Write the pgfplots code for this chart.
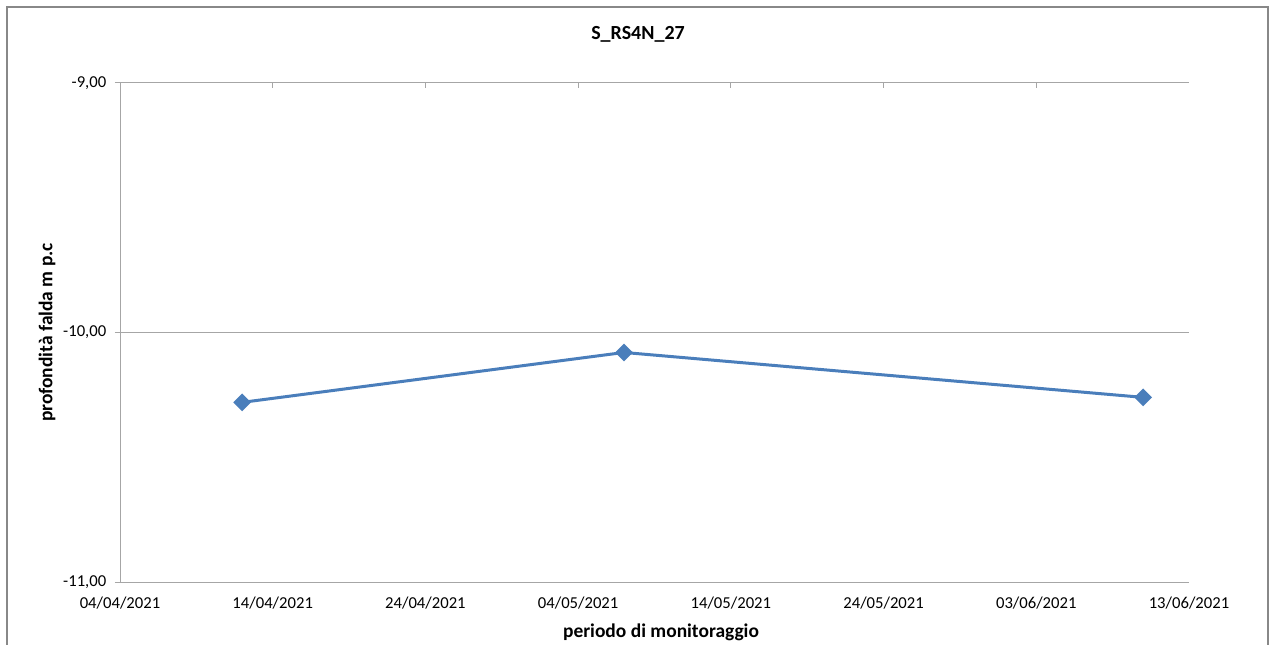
\documentclass[border=0pt]{standalone}
\usepackage{pgfplots}
\pgfplotsset{compat=1.18}
\usepackage{fontspec}
\setmainfont{Carlito}
\definecolor{serie}{HTML}{4A7EBB}
\definecolor{asse}{HTML}{888888}
\definecolor{griglia}{HTML}{A6A6A6}
\begin{document}
\begin{tikzpicture}[x=0.75pt,y=0.75pt]
\useasboundingbox (0,0) rectangle (1271,644);
\fill[white] (0,0) rectangle (1271,644);
\draw[asse,line width=1.5pt] (7,-5) -- (7,637) -- (1268,637) -- (1268,-5);
\begin{axis}[
  at={(90pt,46.5pt)}, anchor=south west,
  scale only axis, width=801.75pt, height=374.25pt,
  xmin=0, xmax=70, ymin=-11, ymax=-9,
  axis x line=bottom, axis y line=left,
  axis line style={draw=griglia, line width=0.75pt, -},
  xtick={0,10,...,70},
  xticklabels={04/04/2021,14/04/2021,24/04/2021,04/05/2021,14/05/2021,24/05/2021,03/06/2021,13/06/2021},
  x tick style={draw=none},
  ytick={-11,-10,-9},
  y tick style={draw=griglia, line width=0.75pt},
  tick align=outside, major tick length=3.75pt,
  ymajorgrids, major grid style={draw=griglia, line width=0.75pt},
  /pgf/number format/assume math mode=true,
  y tick label style={/pgf/number format/fixed, /pgf/number format/fixed zerofill, /pgf/number format/precision=2, /pgf/number format/use comma},
  tick label style={font=\fontsize{12.5}{14}\selectfont, text=black},
  xticklabel style={yshift=-4pt},
  yticklabel style={xshift=-3pt},
  clip=false,
]
\pgfplotsinvokeforeach{10,20,...,60}{\draw[griglia, line width=0.75pt] (axis cs:#1,-9) -- ([yshift=-3.75pt]axis cs:#1,-9);}
\addplot[color=serie, line width=2.25pt, mark=square*, mark size=3.6pt, mark options={rotate=45, solid}]
  coordinates {(8,-10.28) (33,-10.08) (67,-10.26)};
\end{axis}
\node[font=\bfseries\fontsize{15}{16}\selectfont] at (638,610) {S\_RS4N\_27};
\node[font=\bfseries\fontsize{14.6}{16}\selectfont, rotate=90] at (47,311.5) {profondità falda m p.c};
\node[font=\bfseries\fontsize{14.6}{16}\selectfont] at (661,12) {periodo di monitoraggio};
\end{tikzpicture}
\end{document}
